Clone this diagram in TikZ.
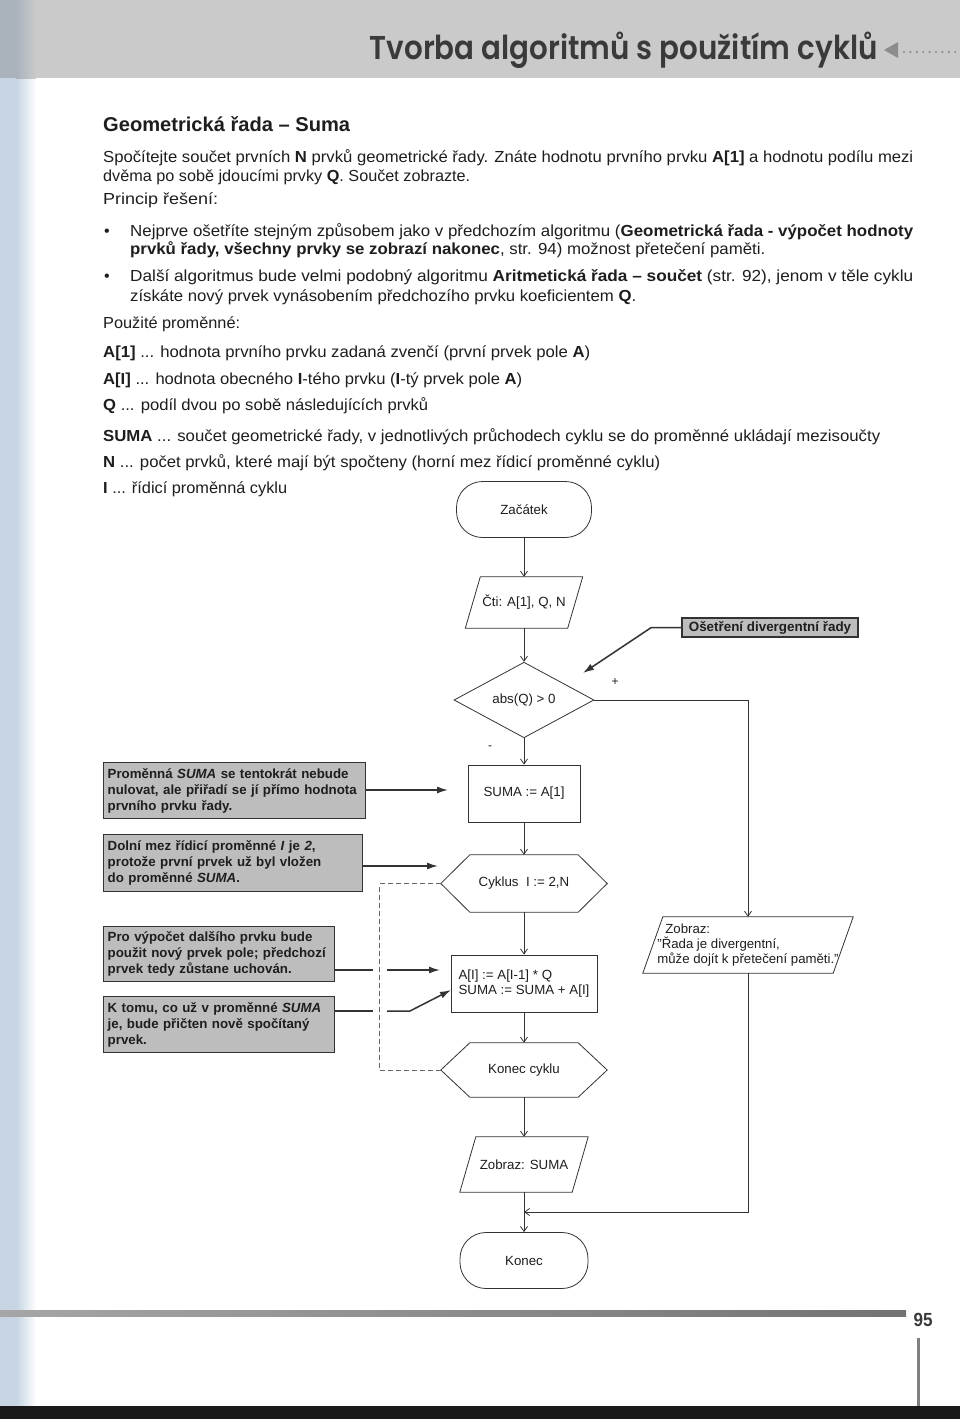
\documentclass[tikz,border=0pt]{standalone}
\usepackage{fontspec}
\usepackage{graphicx}
\setmainfont{Liberation Sans}
\newfontfamily\titlefont{Poppins}[UprightFont={* SemiBold}]
\usetikzlibrary{arrows.meta,shapes.geometric}
\definecolor{ink}{HTML}{333333}
\definecolor{txt}{HTML}{1E1E1E}
\definecolor{band}{HTML}{CACACA}
\definecolor{notefill}{HTML}{BDBDBD}
\definecolor{strip}{HTML}{C6D4E3}
\definecolor{ttlcol}{HTML}{3A3A3A}
\newcommand{\fitw}[2]{\resizebox{#1pt}{\height}{#2}}
\newcommand{\drawhex}[2]{\draw[fl] (#1.west) -- ([xshift=#2pt]#1.north west) -- ([xshift=-#2pt]#1.north east) -- (#1.east) -- ([xshift=-#2pt]#1.south east) -- ([xshift=#2pt]#1.south west) -- cycle;}
\newcommand{\drawpara}[2]{\draw[fl] ([xshift=#2pt]#1.north west) -- (#1.north east) -- ([xshift=-#2pt]#1.south east) -- (#1.south west) -- cycle;}
\begin{document}
\begin{tikzpicture}[x=1pt,y=-1pt,
  fl/.style={draw=ink, line width=0.8pt},
  ftxt/.style={font=\fontsize{13.3}{15.5}\selectfont, text=txt},
  stad/.style={fl, ftxt, rounded corners=26pt, minimum width=130pt, minimum height=56pt},
  proc/.style={fl, ftxt, rectangle, inner sep=3pt},
  shp/.style={ftxt, rectangle, inner sep=0pt},
  arr/.style={draw=ink, line width=0.8pt, -{Straight Barb[length=5pt,width=7pt]}},
  nline/.style={draw=ink, line width=1.5pt},
  narr/.style={nline, -{Latex[length=11pt,width=7pt]}},
  dashline/.style={draw=black!60, line width=0.8pt, dash pattern=on 5pt off 3pt},
  note/.style={draw=ink, line width=1.4pt, fill=notefill, text=txt, font=\bfseries\fontsize{13.3}{16}\selectfont, align=left, inner xsep=4pt, inner ysep=3pt, anchor=north west},
  body/.style={anchor=base west, inner sep=0pt, font=\fontsize{16}{19}\selectfont, text=txt},
  lbl/.style={font=\fontsize{12}{12}\selectfont, text=txt, inner sep=0pt},
]
\path[use as bounding box] (0,0) rectangle (960,1419);
\fill[white] (0,0) rectangle (960,1419);
% header band and page edges
\fill[band] (0,0) rectangle (960,78);
\fill[strip] (0,78) rectangle (16,1406);
\shade[left color=strip, right color=white] (16,78) rectangle (36,1406);
\fill[strip!60!gray] (0,0) rectangle (16,78);
\shade[left color=strip!60!gray, right color=band] (16,0) rectangle (36,78);
\node[anchor=east, inner sep=0pt, text=ttlcol] (ttl) at (878,50) {\resizebox{508pt}{\height}{\titlefont\fontsize{33}{33}\selectfont Tvorba algoritmů s použitím cyklů}};
\fill[black!45] (884,50) -- (898,42) -- (898,58) -- cycle;
\foreach \i in {0,...,8} \fill[black!45] (904+\i*6.4,52) circle (1.2);

% body text
\node[body, font=\bfseries\fontsize{20}{24}\selectfont] (h1) at (103,131) {\fitw{247}{Geometrická řada – Suma}};
\node[body] (l1) at (103,162) {\fitw{810}{Spočítejte součet prvních \textbf{N} prvků geometrické řady. Znáte hodnotu prvního prvku \textbf{A[1]} a hodnotu podílu mezi}};
\node[body] (l2) at (103,181) {\fitw{367}{dvěma po sobě jdoucími prvky \textbf{Q}. Součet zobrazte.}};
\node[body] (l3) at (103,204) {\fitw{115}{Princip řešení:}};
\node[body] (b1) at (104,236) {•};
\node[body] (l4) at (130,236) {\fitw{783}{Nejprve ošetříte stejným způsobem jako v předchozím algoritmu (\textbf{Geometrická řada - výpočet hodnoty}}};
\node[body] (l5) at (130,254) {\fitw{635}{\textbf{prvků řady, všechny prvky se zobrazí nakonec}, str. 94) možnost přetečení paměti.}};
\node[body] (b2) at (104,281) {•};
\node[body] (l6) at (130,281) {\fitw{783}{Další algoritmus bude velmi podobný algoritmu \textbf{Aritmetická řada – součet} (str. 92), jenom v těle cyklu}};
\node[body] (l7) at (130,301) {\fitw{506}{získáte nový prvek vynásobením předchozího prvku koeficientem \textbf{Q}.}};
\node[body] (l8) at (103,328) {\fitw{137}{Použité proměnné:}};
\node[body] (l9) at (103,357) {\fitw{487}{\textbf{A[1]} ... hodnota prvního prvku zadaná zvenčí (první prvek pole \textbf{A})}};
\node[body] (l10) at (103,384) {\fitw{419}{\textbf{A[I]} ... hodnota obecného \textbf{I}-tého prvku (\textbf{I}-tý prvek pole \textbf{A})}};
\node[body] (l11) at (103,410) {\fitw{325}{\textbf{Q} ... podíl dvou po sobě následujících prvků}};
\node[body] (l12) at (103,441) {\fitw{777}{\textbf{SUMA} ... součet geometrické řady, v jednotlivých průchodech cyklu se do proměnné ukládají mezisoučty}};
\node[body] (l13) at (103,467) {\fitw{557}{\textbf{N} ... počet prvků, které mají být spočteny (horní mez řídicí proměnné cyklu)}};
\node[body] (l14) at (103,493) {\fitw{184}{\textbf{I} ... řídicí proměnná cyklu}};

% flowchart nodes
\node[stad, minimum width=135pt] (start) at (524,509.5) {Začátek};
\node[shp, minimum width=117pt, minimum height=51pt] (cti) at (524,602.5) {Čti: A[1], Q, N};
\drawpara{cti}{15}
\node[fl, ftxt, diamond, minimum width=140pt, minimum height=75pt, inner sep=0pt] (dia) at (524,700) {abs(Q) > 0};
\node[proc, minimum width=112pt, minimum height=57pt] (suma) at (524,793.5) {SUMA := A[1]};
\node[shp, minimum width=166pt, minimum height=57pt] (cyk) at (524,883.5) {Cyklus\ \ I := 2,N};
\drawhex{cyk}{29}
\node[proc, minimum width=146pt, minimum height=57pt, align=left] (loop) at (524,983.5) {A[I] := A[I-1] * Q\\SUMA := SUMA + A[I]};
\node[shp, minimum width=166pt, minimum height=54pt] (kc) at (524,1070) {Konec cyklu};
\drawhex{kc}{29}
\node[shp, minimum width=128pt, minimum height=55pt] (zs) at (524,1164.5) {Zobraz: SUMA};
\drawpara{zs}{16}
\node[stad, minimum width=128pt] (end) at (524,1260.5) {Konec};
\node[shp, minimum width=210pt, minimum height=56pt, align=left, font=\fontsize{13.2}{15}\selectfont] (zob) at (748,945) {\hspace*{8pt}Zobraz:\\"Řada je divergentní,\\může dojít k přetečení paměti."};
\drawpara{zob}{20}
\coordinate (join) at (524,1212);

\node[lbl] (plus) at (615,682) {+};
\node[lbl] (minus) at (490,748) {-};

% flow connectors
\draw[arr] (start.south) -- (cti.north);
\draw[arr] (cti.south) -- (dia.north);
\draw[arr] (dia.south) -- (suma.north);
\draw[arr] (suma.south) -- (cyk.north);
\draw[arr] (cyk.south) -- (loop.north);
\draw[arr] (loop.south) -- (kc.north);
\draw[arr] (kc.south) -- (zs.north);
\draw[arr] (zs.south) -- (end.north);
\draw[arr] (dia.east) -| (zob.north);
\draw[arr] (zob.south) |- (join);
\draw[dashline] (cyk.west) -- ++(-61,0) |- (kc.west);

% notes
\node[note, text width=254pt, minimum height=56pt] (n1) at (103,762) {\mbox{Proměnná \textit{SUMA} se tentokrát nebude}\\\mbox{nulovat, ale přiřadí se jí přímo hodnota}\\\mbox{prvního prvku řady.}};
\node[note, text width=251pt, minimum height=57pt] (n2) at (103,834) {\mbox{Dolní mez řídicí proměnné \textit{I} je \textit{2},}\\\mbox{protože první prvek už byl vložen}\\\mbox{do proměnné \textit{SUMA}.}};
\node[note, text width=223pt, minimum height=55pt] (n3) at (103,926) {\mbox{Pro výpočet dalšího prvku bude}\\\mbox{použit nový prvek pole; předchozí}\\\mbox{prvek tedy zůstane uchován.}};
\node[note, text width=223pt, minimum height=56pt] (n4) at (103,996) {\mbox{K tomu, co už v proměnné \textit{SUMA}}\\\mbox{je, bude přičten nově spočítaný}\\\mbox{prvek.}};
\node[note, anchor=center, inner ysep=2pt, minimum width=176pt, minimum height=19pt, font=\bfseries\fontsize{13.4}{14}\selectfont] (osb) at (770,627.5) {Ošetření divergentní řady};

\coordinate (t0) at (583,673);
\coordinate (t1) at (448,790);
\coordinate (t2) at (438,866);
\coordinate (t3a) at (373,970);
\coordinate (t3b) at (387,970);
\coordinate (t3) at (440,970);
\coordinate (t4a) at (373,1011);
\coordinate (t4b) at (387,1011);
\coordinate (t4c) at (410,1011);
\coordinate (t4) at (451,990);

\draw[narr] (osb.west) -- ++(-30,0) -- (t0);
\draw[narr] (n1.east |- t1) -- (t1);
\draw[narr] (n2.east |- t2) -- (t2);
\draw[nline] (n3.east |- t3a) -- (t3a);
\draw[narr] (t3b) -- (t3);
\draw[nline] (n4.east |- t4a) -- (t4a);
\draw[narr] (t4b) -- (t4c) -- (t4);

% footer
\shade[left color=black!35, right color=black!55] (0,1310) rectangle (906,1316);
\node[anchor=center, inner sep=0pt, text=ttlcol] (pg) at (923,1320) {\resizebox{19pt}{\height}{\bfseries\fontsize{19}{19}\selectfont 95}};
\fill[black!50] (917,1338) rectangle (920,1410);
\fill[black!90] (0,1406) rectangle (960,1419);
\end{tikzpicture}
\end{document}
